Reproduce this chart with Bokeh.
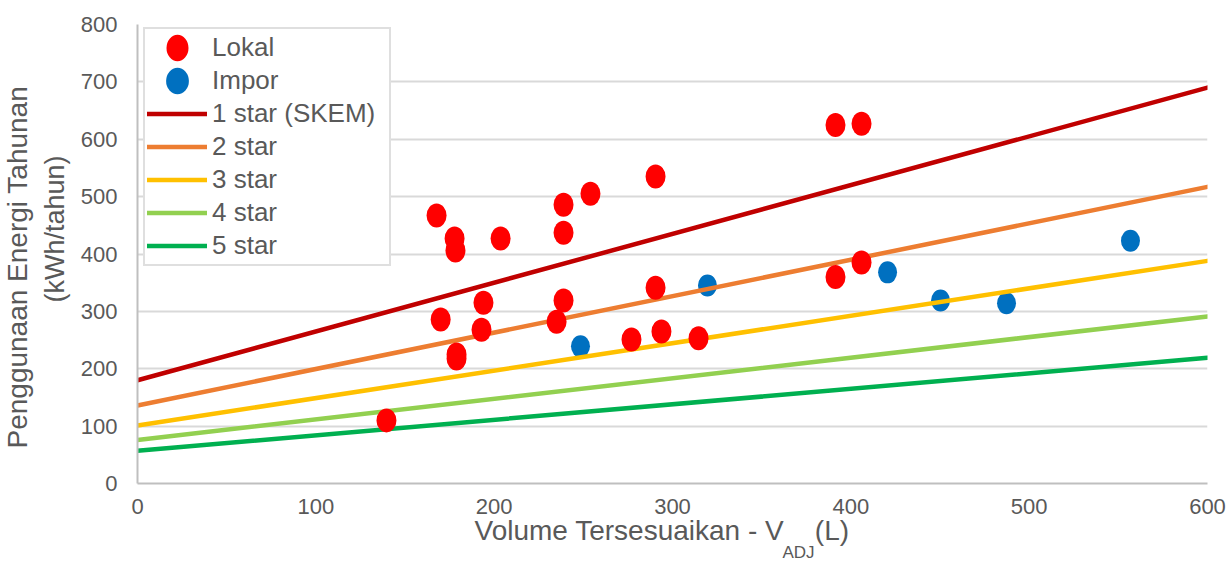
from bokeh.plotting import figure
from bokeh.models import Legend, LegendItem, FixedTicker, Title
from bokeh.embed import file_html
from bokeh.resources import INLINE

# Data
lokal_x = [167.7, 177.8, 178.3, 203.6, 238.9, 238.9, 254.0, 290.5, 391.4, 406.0,
           170.0, 194.0, 192.9, 178.9, 178.9, 238.9, 235.0, 290.5, 293.8, 277.0,
           314.6, 391.4, 406.0, 139.6]
lokal_y = [467, 427, 406, 427, 486, 437, 505, 535, 625, 627,
           286, 315, 268, 225, 218, 319, 282, 341, 265, 251,
           253, 360, 385, 110]
impor_x = [248.4, 319.6, 420.6, 450.3, 487.3, 556.8]
impor_y = [239, 345, 368, 319, 314, 423]

line_x = [0, 600]
star1_y = [180, 690]
star2_y = [136, 517]
star3_y = [101, 388]
star4_y = [76, 291]
star5_y = [57, 219]

x_ticks = [0, 100, 200, 300, 400, 500, 600]
y_ticks = [0, 100, 200, 300, 400, 500, 600, 700, 800]

FONT = "Liberation Sans"
TXT = "#595959"

p = figure(width=1228, height=562, x_range=(0, 600), y_range=(0, 800),
           output_backend="svg", toolbar_location=None,
           min_border_left=137, min_border_right=21, min_border_top=24, min_border_bottom=79)
p.outline_line_color = None
p.background_fill_color = "white"

for ax in (p.xaxis[0], p.yaxis[0]):
    ax.major_tick_line_color = None
    ax.minor_tick_line_color = None
    ax.major_label_text_font = FONT
    ax.major_label_text_font_size = "22px"
    ax.major_label_text_color = TXT
    ax.axis_line_color = "#BFBFBF"
    ax.axis_line_width = 2
p.xaxis.ticker = FixedTicker(ticks=x_ticks)
p.yaxis.ticker = FixedTicker(ticks=y_ticks)
p.xaxis.major_label_standoff = 9
p.yaxis.major_label_standoff = 14
p.xgrid.grid_line_color = None
p.ygrid.grid_line_color = "#D9D9D9"
p.ygrid.grid_line_width = 2

r_imp = p.ellipse(impor_x, impor_y, width=19, height=22, width_units="screen",
                  height_units="screen", fill_color="#0070C0", line_color=None)
colors = ["#C00000", "#ED7D31", "#FFC000", "#92D050", "#00B050"]
names = ["1 star (SKEM)", "2 star", "3 star", "4 star", "5 star"]
series = [star1_y, star2_y, star3_y, star4_y, star5_y]
line_renderers = []
for ys, c in zip(series, colors):
    line_renderers.append(p.line(line_x, ys, line_color=c, line_width=4.5, line_cap="round"))
r_lok = p.ellipse(lokal_x, lokal_y, width=20, height=24, width_units="screen",
                  height_units="screen", fill_color="#FF0000", line_color=None)

items = [LegendItem(label="Lokal", renderers=[r_lok]),
         LegendItem(label="Impor", renderers=[r_imp])]
for n, r in zip(names, line_renderers):
    items.append(LegendItem(label=n, renderers=[r]))
legend = Legend(items=items, location=(6, 217), padding=2, margin=0, spacing=0,
                glyph_width=60, glyph_height=33, label_height=33, label_width=175,
                label_standoff=5,
                label_text_font=FONT, label_text_font_size="26px", label_text_color=TXT,
                border_line_color="#BFBFBF", border_line_width=2,
                background_fill_color="white", background_fill_alpha=1)
p.add_layout(legend)

# Y axis titles (two lines)
t_units = Title(text="(kWh/tahun)", align="left", offset=181, standoff=16,
                text_font=FONT, text_font_size="27px", text_font_style="normal",
                text_color=TXT)
t_main = Title(text="Penggunaan Energi Tahunan", align="left", offset=35, standoff=-7,
               text_font=FONT, text_font_size="28px", text_font_style="normal",
               text_color=TXT)
p.add_layout(t_units, "left")
p.add_layout(t_main, "left")

# X axis title with subscript (two rows: main text, then subscript)
NB = "\u00a0"
t_x = Title(text="Volume Tersesuaikan - V" + NB * 4 + "(L)", align="left", offset=337,
            standoff=-7, text_font=FONT, text_font_size="28px", text_font_style="normal",
            text_color=TXT)
t_sub = Title(text="ADJ", align="left", offset=645, standoff=-3,
              text_font=FONT, text_font_size="17px", text_font_style="normal",
              text_color=TXT)
p.add_layout(t_x, "below")
p.add_layout(t_sub, "below")

open("out.html", "w").write(file_html(p, INLINE))
